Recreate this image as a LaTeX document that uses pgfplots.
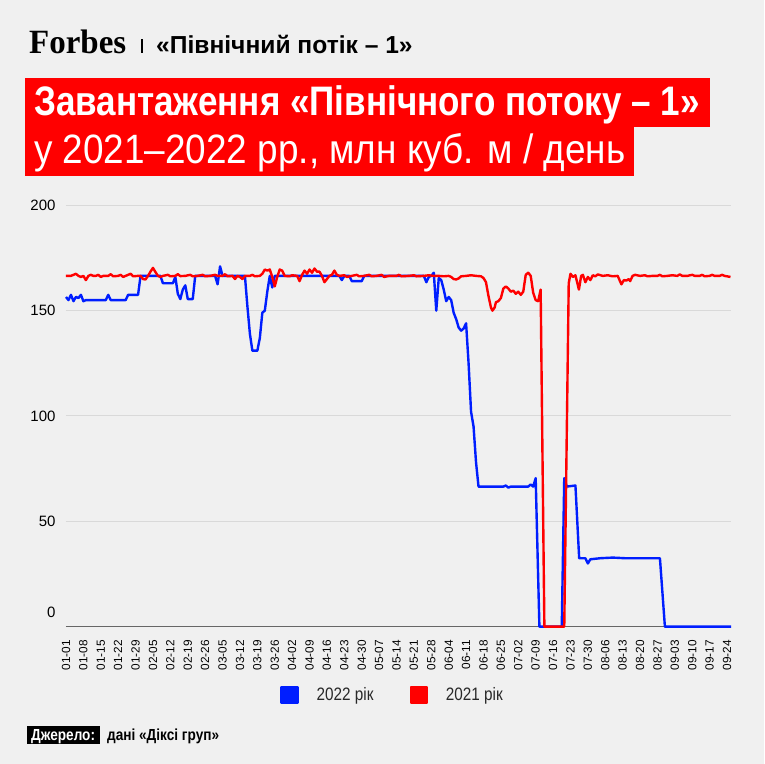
\documentclass[border=0pt]{standalone}
\usepackage{fontspec}
\usepackage{pgfplots}
\pgfplotsset{compat=1.18}
\setmainfont{Liberation Sans}
\newfontfamily\cond[FakeStretch=0.85]{Liberation Sans}
\newfontfamily\condl[FakeStretch=0.90]{Liberation Sans}
\newfontfamily\forbesfont[FakeStretch=0.97]{Liberation Serif}
\definecolor{bg}{RGB}{240,240,240}
\definecolor{fred}{RGB}{255,0,0}
\definecolor{fblue}{RGB}{0,30,255}
\definecolor{txt}{RGB}{40,40,40}
\begin{document}
\begin{tikzpicture}
\fill[bg] (0,0) rectangle (764pt,764pt);
% header
\node[anchor=base west, inner sep=0, font=\forbesfont\bfseries\fontsize{34}{34}\selectfont] at (29pt,710.7pt) {Forbes};
\draw[line width=1.3pt, black] (142pt,711pt) -- (142pt,725pt);
\node[anchor=base west, inner sep=0, font=\bfseries\fontsize{24.6}{24.6}\selectfont] at (156pt,710.7pt) {«Північний потік – 1»};
\fill[fred] (25pt,637pt) rectangle (710pt,686pt);
\fill[fred] (25pt,588pt) rectangle (634pt,637pt);
\node[anchor=base west, inner sep=0, text=white, font=\cond\bfseries\fontsize{41.2}{41.2}\selectfont] at (34pt,648pt) {Завантаження «Північного потоку – 1»};
\node[anchor=base west, inner sep=0, text=white, font=\condl\fontsize{41}{41}\selectfont] at (34pt,600pt) {у 2021–2022 рр., млн куб. м / день};
% footer
\fill[black] (27pt,20pt) rectangle (100pt,38pt);
\node[anchor=base west, inner sep=0, text=white, font=\cond\bfseries\fontsize{16}{16}\selectfont] at (31pt,23.5pt) {Джерело:};
\node[anchor=base west, inner sep=0, text=black, font=\cond\bfseries\fontsize{16}{16}\selectfont] at (107pt,23.5pt) {дані «Діксі груп»};
\begin{axis}[
  at={(66pt,137.3pt)}, anchor=south west, scale only axis,
  width=665pt, height=421.4pt,
  xmin=0, xmax=267.6, ymin=0, ymax=200,
  clip=false,
  axis line style={draw=none},
  tick style={draw=none},
  ytick={50,100,150,200},
  ymajorgrids,
  grid style={line width=1pt, color=black!15},
  extra y ticks={0},
  extra y tick style={grid style={line width=1.6pt, color=black!60}, yticklabel style={yshift=14pt}},
  /pgf/number format/assume math mode=true,
  yticklabel style={font=\fontsize{15}{15}\selectfont, text=black, xshift=-7pt},
  xtick={0,7,...,266},
  xticklabels={01-01,01-08,01-15,01-22,01-29,02-05,02-12,02-19,02-26,03-05,03-12,03-19,03-26,04-02,04-09,04-16,04-23,04-30,05-07,05-14,05-21,05-28,06-04,06-11,06-18,06-25,07-02,07-09,07-16,07-23,07-30,08-06,08-13,08-20,08-27,09-03,09-10,09-17,09-24},
  xticklabel style={rotate=90, anchor=east, font=\fontsize{11.8}{11.8}\selectfont, text=black, xshift=-10pt},
  legend columns=2,
  legend style={at={(axis description cs:0.491,-0.162)}, anchor=center, draw=none, fill=none,
    font=\cond\fontsize{18}{18}\selectfont, text=txt,
    /tikz/every odd column/.append style={column sep=16pt},
    /tikz/every even column/.append style={column sep=34pt}},
  legend image code/.code={\fill[#1] (0pt,-8pt) rectangle (16pt,8pt);},
]
\addplot[fblue, line width=2.4pt, line join=round] coordinates {
(0,156.5) (1,155) (2,157.5) (3,154.5) (4,156.5) (5,156) (6,157.5) (7,154.5) (8,155) (16,155) (17,157.5) (18,155) (24,155) (25,157.5) (29,157.5) (30,166.5) (38,166.5) (39,163) (43,163) (44,166) (45,158) (46,155.5) (47,160) (48,162) (49,155.5) (51,155.5) (52,166.5) (60,166.5) (61,162.5) (62,171) (63,166.5) (72,166.5) (73,152) (74,139) (75,131) (77,131) (78,137) (79,149) (80,150) (81,159) (82,166.5) (83,161) (84,166.5) (110,166.5) (111,164.5) (112,166.5) (114,166.5) (115,164) (119,164) (120,166.5) (144,166.5) (145,163.5) (146,166) (147,166.5) (148,168) (149,150) (150,165.5) (151,164.5) (152,160) (153,154.5) (154,156.5) (155,155) (156,149) (157,146) (158,142) (159,140.5) (160,141.5) (161,144) (162,125) (163,102) (164,95) (165,78) (166,66.5) (176,66.5) (177,67) (178,66) (179,66.5) (186,66.5) (187,67.5) (188,66.5) (189,70.5) (190.5,0) (199.5,0) (200.5,70.5) (201.5,66.5) (205,67) (206.5,32.5) (209,32.5) (210,30) (211,32) (215,32.5) (220,32.8) (225,32.5) (239,32.5) (241,0) (267.6,0)
};
\addlegendentry{2022 рік}
\addplot[fred, line width=2.4pt, line join=round] coordinates {
(0,166.5) (2,166.5) (3,167) (4,167.5) (5,166.5) (6,166) (7,166.5) (8,164.5) (9,166.5) (10,167) (11,166.5) (12,166.5) (13,167) (14,166) (15,166.5) (17,166.5) (18,167.3) (19,166.3) (21,166.5) (22,167) (23,166) (24,166.5) (26,167.5) (27,166.3) (29,166.5) (30,166.5) (31,165) (32,164.8) (33,166.5) (34,168.5) (35,170.3) (36,168.3) (37,166.5) (38,166) (39,166.5) (41,167) (42,166.3) (44,166.5) (45,167.3) (46,166.4) (48,166.5) (50,167) (51,166.3) (53,166.5) (55,167) (56,166.3) (58,166.5) (60,167) (61,166.5) (63,166.5) (64,167.3) (65,166.3) (67,166.5) (68,165) (69,166.5) (70,166) (71,165) (72,166.5) (74,166.5) (75,167) (76,166.3) (78,166.5) (79,167.5) (80,169.5) (81,169) (82,169.5) (83,166) (84,161.5) (85,166) (86,169.5) (87,169) (88,166.5) (90,166.3) (91,166.8) (93,166.5) (94,164) (95,167) (96,169) (97,167.5) (98,169.5) (99,168) (100,170) (101,168.5) (102,168.5) (103,166.5) (104,163.5) (105,165) (106,166.5) (107,167) (108,169) (109,167) (110,166.5) (112,166.8) (113,166) (115,166.5) (117,167) (118,166.3) (120,166.5) (122,167) (123,166.3) (125,166.5) (127,167) (128,166) (130,166.5) (133,166.5) (134,167) (135,166.3) (138,166.5) (140,166.8) (141,166.3) (144,166.5) (146,166.8) (148,166.5) (150,166.5) (152,166.3) (154,166.5) (155,166) (156,165) (157,164.8) (158,165.3) (159,166.3) (161,166.5) (163,166.8) (165,166.5) (167,166.3) (168,165.5) (169,163.5) (170,157) (171,151.5) (171.6,150) (172.5,151.5) (173,154) (174,154.5) (175,156) (176,160.5) (177,161.5) (178,160.5) (179,159) (180,159.5) (181,158) (182,159) (183,157.5) (184,159) (185,167) (186,168) (187,166.5) (188,158.5) (189,155) (190,154.5) (191,160) (192.5,0) (200.5,0) (202.3,163) (203,167.5) (204,166) (205,166.8) (206.4,160) (207.3,166.5) (208,167) (209,163.5) (210,166) (211,164.5) (212,166.8) (213,166.3) (214,167.2) (216,166.5) (218,166.8) (220,166.3) (222,166.5) (223.5,162.5) (224.5,164.5) (225.5,164.3) (226.5,165) (227,164) (228,166.5) (229,167) (231,166.5) (233,166.8) (234,166.3) (236,166.5) (238,166.5) (239,167) (240,166.3) (242,166.5) (244,166.8) (246,166.5) (247,167.2) (248,166.5) (250,166.5) (252,167) (253,166.5) (255,166.5) (256,167) (257,166.3) (259,166.5) (260,167) (261,166.5) (263,166.5) (264,167) (265,166.5) (267.4,166)
};
\addlegendentry{2021 рік}
\end{axis}
\end{tikzpicture}
\end{document}
